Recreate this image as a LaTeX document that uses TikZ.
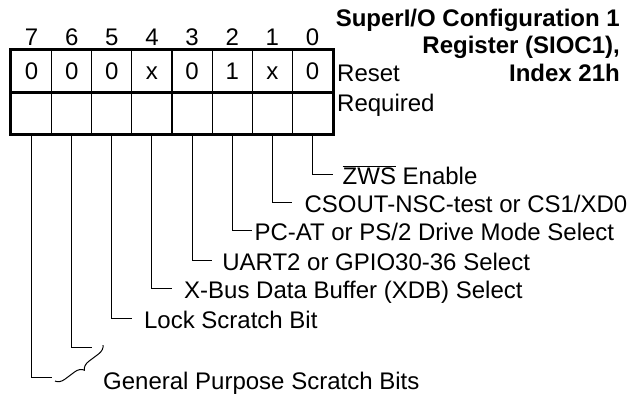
\documentclass[tikz,border=0pt]{standalone}
\usepackage{fontspec}
\setmainfont{Liberation Sans}
\usetikzlibrary{decorations.pathreplacing}

\tikzset{
  cell/.style={draw, line width=1pt, minimum width=40.125pt, minimum height=42pt,
    inner sep=0pt, text height=17pt, text depth=0pt},
  frame/.style={line width=3pt},
  lead/.style={line width=1pt},
  bitlbl/.style={anchor=west, inner xsep=10pt, inner ysep=0pt, text height=20pt, text depth=0pt},
}

\begin{document}
\begin{tikzpicture}[x=1pt,y=-1pt,font=\fontsize{24}{28}\selectfont]
  \useasboundingbox (0,0) rectangle (641,397);
  % bit numbers
  \node[anchor=base] (n7) at (31.56,45) {7};
  \node[anchor=base] (n6) at (71.69,45) {6};
  \node[anchor=base] (n5) at (111.81,45) {5};
  \node[anchor=base] (n4) at (151.94,45) {4};
  \node[anchor=base] (n3) at (192.06,45) {3};
  \node[anchor=base] (n2) at (232.19,45) {2};
  \node[anchor=base] (n1) at (272.31,45) {1};
  \node[anchor=base] (n0) at (312.44,45) {0};
  % reset row
  \node[cell] (r7) at (31.56,70.8) {0};
  \node[cell] (r6) at (71.69,70.8) {0};
  \node[cell] (r5) at (111.81,70.8) {0};
  \node[cell] (r4) at (151.94,70.8) {x};
  \node[cell] (r3) at (192.06,70.8) {0};
  \node[cell] (r2) at (232.19,70.8) {1};
  \node[cell] (r1) at (272.31,70.8) {x};
  \node[cell] (r0) at (312.44,70.8) {0};
  % required row
  \node[cell] (q7) at (31.56,112.8) {};
  \node[cell] (q6) at (71.69,112.8) {};
  \node[cell] (q5) at (111.81,112.8) {};
  \node[cell] (q4) at (151.94,112.8) {};
  \node[cell] (q3) at (192.06,112.8) {};
  \node[cell] (q2) at (232.19,112.8) {};
  \node[cell] (q1) at (272.31,112.8) {};
  \node[cell] (q0) at (312.44,112.8) {};
  \draw[frame] (r7.north west) rectangle (q0.south east);
  \draw[frame] (r7.south west) -- (r0.south east);
  \node[anchor=base west, inner sep=0pt] (reset) at (337,81.7) {Reset};
  \node[anchor=base west, inner sep=0pt] (req) at (337,111.7) {Required};
  % title
  \node[anchor=base east, inner sep=0pt, font=\fontsize{24}{28}\selectfont\bfseries] (t1) at (620,26) {SuperI/O Configuration 1};
  \node[anchor=base east, inner sep=0pt, font=\fontsize{24}{28}\selectfont\bfseries] (t2) at (620,53.5) {Register (SIOC1),};
  \node[anchor=base east, inner sep=0pt, font=\fontsize{24}{28}\selectfont\bfseries] (t3) at (620,81.7) {Index 21h};
  % bit labels
  \node[bitlbl] (l0) at (332.5,174) {$\overline{\mbox{ZWS}}$ Enable};
  \node[bitlbl, inner xsep=12pt] (l1) at (292.4,202) {CSOUT-NSC-test or CS1/XD0};
  \node[bitlbl, inner xsep=2pt] (l2) at (252.3,230) {PC-AT or PS/2 Drive Mode Select};
  \node[bitlbl] (l3) at (212.1,260) {UART2 or GPIO30-36 Select};
  \node[bitlbl, inner xsep=12pt] (l4) at (172,288) {X-Bus Data Buffer (XDB) Select};
  \node[bitlbl, inner xsep=12pt] (l5) at (131.9,318) {Lock Scratch Bit};
  \coordinate (g6) at (91.8,347);
  \coordinate (g7) at (51.7,377);
  \node[bitlbl] (l7) at (93,379) {General Purpose Scratch Bits};
  \coordinate (b1) at (55,381);
  \coordinate (b2) at (103,345);
  % leaders
  \draw[lead] (q0.south) |- (l0.west);
  \draw[lead] (q1.south) |- (l1.west);
  \draw[lead] (q2.south) |- (l2.west);
  \draw[lead] (q3.south) |- (l3.west);
  \draw[lead] (q4.south) |- (l4.west);
  \draw[lead] (q5.south) |- (l5.west);
  \draw[lead] (q6.south) |- (g6);
  \draw[lead] (q7.south) |- (g7);
  \draw[lead, decorate, decoration={brace, mirror, amplitude=9pt}] (b1) -- (b2);
\end{tikzpicture}
\end{document}
